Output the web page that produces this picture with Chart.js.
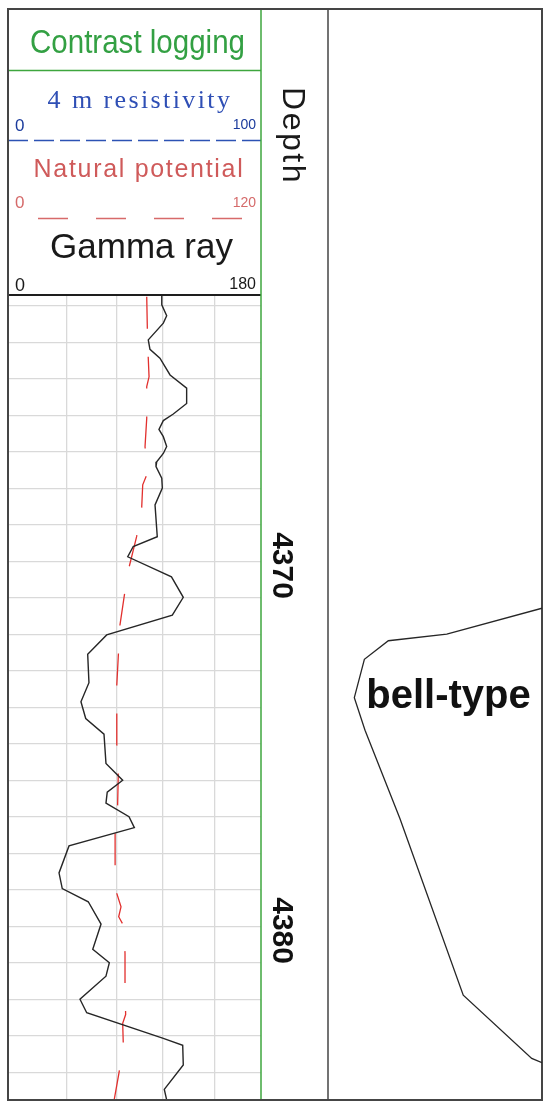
<!DOCTYPE html>
<html>
<head>
<meta charset="utf-8">
<script src="https://cdn.jsdelivr.net/npm/chart.js@4.4.1/dist/chart.umd.min.js"></script>
<style>
  html, body { margin: 0; padding: 0; background: #fff; }
  #wrap { position: relative; width: 550px; height: 1108px; }
  #wrap canvas { position: absolute; left: 0; top: 0; }
</style>
</head>
<body>
<div id="wrap">
  <canvas id="logChart" width="550" height="1108"></canvas>
  <canvas id="bellChart" width="550" height="1108"></canvas>
</div>
<script>
// depth window of the log (m)
var depthTop = 4362.7, depthBottom = 4384.75;
var depthLabels = [4370, 4380];
// gamma values where the vertical grid lines sit
var gammaGrid = [42, 77, 110, 147];

// gamma ray curve (API, 0-180)
var gammaDepth = [4362.72, 4362.97, 4363.27, 4363.47, 4363.93, 4364.19, 4364.43, 4364.89, 4365.25, 4365.67,
  4365.96, 4366.14, 4366.38, 4366.58, 4366.85, 4367.04, 4367.27, 4367.40, 4367.72, 4367.99,
  4368.45, 4369.32, 4369.59, 4369.87, 4370.42, 4370.98, 4371.47, 4372.01, 4372.54, 4373.32,
  4373.84, 4374.30, 4374.73, 4375.53, 4375.99, 4376.32, 4376.62, 4376.99, 4377.29, 4377.79,
  4378.53, 4378.96, 4379.32, 4379.93, 4380.62, 4380.99, 4381.36, 4381.99, 4382.36, 4383.06,
  4383.25, 4383.79, 4384.46, 4384.75];
var gammaValues = [109.4, 109.4, 112.9, 110.5, 99.8, 101.0, 108.1, 115.3, 127.1, 127.1,
  117.6, 110.5, 107.4, 110.5, 112.9, 110.5, 105.8, 105.3, 109.4, 109.8,
  104.6, 106.2, 89.1, 85.2, 116.3, 124.7, 116.9, 70.2, 56.7, 57.6,
  51.9, 55.3, 68.3, 69.7, 81.6, 70.6, 69.7, 86.1, 89.9, 43.4,
  36.3, 38.6, 57.1, 66.2, 60.3, 72.1, 69.7, 51.2, 56.0, 110.5,
  124.3, 124.7, 111.2, 112.9];

// natural potential curve (0-120)
var spDepth = [4362.75, 4363.65, 4364.39, 4364.94, 4365.21, 4366.08, 4366.85, 4367.63, 4367.90, 4368.54,
  4369.32, 4370.14, 4370.92, 4371.74, 4372.61, 4373.38, 4375.03, 4375.85, 4376.67, 4377.45,
  4378.32, 4379.09, 4379.46, 4379.73, 4379.96, 4380.73, 4381.58, 4382.41, 4382.65, 4383.25,
  4384.02, 4384.73];
var spValues = [65.8, 66.1, 66.5, 66.9, 65.8, 65.8, 65.0, 65.8, 63.9, 63.4,
  61.0, 57.5, 55.2, 53.1, 52.3, 51.6, 51.6, 52.3, 52.0, 50.8,
  50.8, 51.6, 53.6, 52.5, 54.7, 55.5, 55.5, 55.8, 54.4, 54.7,
  52.6, 50.4];

// bell-type outline (relative amplitude 0-100)
var bellDepth = [4371.28, 4371.99, 4372.17, 4372.68, 4373.73, 4374.62, 4377.04, 4381.88, 4383.61, 4383.73];
var bellValues = [100, 55.5, 28.2, 17.0, 12.3, 17.3, 33.6, 63.2, 95.2, 100];

function toPoints(xs, ys) {
  return xs.map(function (v, i) { return { x: v, y: ys[i] }; });
}

function line(ctx, x1, y1, x2, y2, color, w, dash) {
  ctx.save();
  ctx.strokeStyle = color;
  ctx.lineWidth = w;
  ctx.setLineDash(dash || []);
  ctx.beginPath();
  ctx.moveTo(x1, y1);
  ctx.lineTo(x2, y2);
  ctx.stroke();
  ctx.restore();
}

function text(ctx, s, x, y, font, color, align, spacing, maxW) {
  ctx.save();
  ctx.font = font;
  ctx.fillStyle = color;
  ctx.textAlign = align || 'left';
  ctx.textBaseline = 'alphabetic';
  if ('letterSpacing' in ctx) ctx.letterSpacing = spacing || '0px';
  if (maxW) ctx.fillText(s, x, y, maxW); else ctx.fillText(s, x, y);
  ctx.restore();
}

var SANS = '"Liberation Sans", Arial, sans-serif';
var SERIF = '"Liberation Serif", "Times New Roman", serif';

// header, frame and depth column
var trackPlugin = {
  id: 'track',
  afterDraw: function (chart) {
    var ctx = chart.ctx;
    var ys = chart.scales.y;

    // header separators
    line(ctx, 8, 70.5, 261, 70.5, '#3ea63e', 1.4);
    line(ctx, 8, 140.5, 261, 140.5, '#2c52b4', 1.5, [20, 6]);
    line(ctx, 38, 218.5, 244, 218.5, '#d76a6a', 1.3, [30, 28]);
    line(ctx, 8, 295, 261, 295, '#1e1e1e', 2);

    text(ctx, 'Contrast logging', 137.5, 53, '34px ' + SANS, '#33a043', 'center', '0px', 215);
    text(ctx, '4 m resistivity', 140, 108, '26px ' + SERIF, '#2f4fb5', 'center', '2.4px');
    text(ctx, '0', 15, 131, '17px ' + SANS, '#1b3b9c', 'left');
    text(ctx, '100', 256, 129, '14px ' + SANS, '#1b3b9c', 'right');
    text(ctx, 'Natural potential', 139, 177, '25px ' + SANS, '#cf5a5a', 'center', '1.7px');
    text(ctx, '0', 15, 208, '17px ' + SANS, '#d56a6a', 'left');
    text(ctx, '120', 256, 207, '14px ' + SANS, '#d56a6a', 'right');
    text(ctx, 'Gamma ray', 141.5, 258, '35px ' + SANS, '#1a1a1a', 'center');
    text(ctx, '0', 15, 291, '18px ' + SANS, '#1a1a1a', 'left');
    text(ctx, '180', 256, 289, '16px ' + SANS, '#1a1a1a', 'right');

    // depth column title, rotated
    ctx.save();
    ctx.translate(283, 136);
    ctx.rotate(Math.PI / 2);
    text(ctx, 'Depth', 0, 0, '32px ' + SANS, '#1a1a1a', 'center', '2.5px');
    ctx.restore();

    // depth labels from the y scale
    depthLabels.forEach(function (d) {
      var py = ys.getPixelForValue(d);
      ctx.save();
      ctx.translate(273, py + 4);
      ctx.rotate(Math.PI / 2);
      text(ctx, String(d), 0, 0, 'bold 30px ' + SANS, '#111', 'center');
      ctx.restore();
    });

    // track dividers and outer frame
    line(ctx, 261, 9, 261, 1100, '#3ea63e', 1.5);
    line(ctx, 328, 9, 328, 1100, '#444', 1.5);
    ctx.save();
    ctx.strokeStyle = '#454545';
    ctx.lineWidth = 2;
    ctx.strokeRect(8, 9, 534, 1091);
    ctx.restore();
  }
};

var logChart = new Chart(document.getElementById('logChart'), {
  type: 'scatter',
  data: {
    datasets: [{
      label: 'Gamma ray',
      data: toPoints(gammaValues, gammaDepth),
      xAxisID: 'x',
      showLine: true,
      borderColor: '#262626',
      borderWidth: 1.4,
      pointRadius: 0
    }, {
      label: 'Natural potential',
      data: toPoints(spValues, spDepth),
      xAxisID: 'xsp',
      showLine: true,
      borderColor: '#e2302e',
      borderWidth: 1.3,
      borderDash: [32, 28],
      pointRadius: 0
    }]
  },
  options: {
    responsive: false,
    animation: false,
    devicePixelRatio: 1,
    layout: { padding: { left: 8, top: 295, right: 289, bottom: 8 } },
    plugins: { legend: { display: false }, tooltip: { enabled: false } },
    scales: {
      x: {
        type: 'linear', min: 0, max: 180,
        afterBuildTicks: function (s) { s.ticks = gammaGrid.map(function (v) { return { value: v }; }); },
        afterFit: function (s) { s.height = 0; },
        ticks: { display: false },
        grid: { color: '#d9d9d9', lineWidth: 1.3, drawTicks: false },
        border: { display: false }
      },
      xsp: { type: 'linear', min: 0, max: 120, display: false },
      y: {
        type: 'linear', reverse: true, min: depthTop, max: depthBottom,
        afterBuildTicks: function (s) {
          var t = [];
          for (var d = Math.ceil(depthTop); d <= Math.floor(depthBottom); d++) t.push({ value: d });
          s.ticks = t;
        },
        afterFit: function (s) { s.width = 0; },
        ticks: { display: false },
        grid: { color: '#d9d9d9', lineWidth: 1.3, drawTicks: false },
        border: { display: false }
      }
    }
  },
  plugins: [trackPlugin]
});

var bellLabel = {
  id: 'bellLabel',
  afterDraw: function (chart) {
    text(chart.ctx, 'bell-type', 448.5, 708, 'bold 40px ' + SANS, '#111', 'center');
  }
};

var bellChart = new Chart(document.getElementById('bellChart'), {
  type: 'scatter',
  data: {
    datasets: [{
      label: 'bell-type',
      data: toPoints(bellValues, bellDepth),
      showLine: true,
      borderColor: '#262626',
      borderWidth: 1.3,
      pointRadius: 0
    }]
  },
  options: {
    responsive: false,
    animation: false,
    devicePixelRatio: 1,
    layout: { padding: { left: 328, top: 295, right: 8, bottom: 8 } },
    plugins: { legend: { display: false }, tooltip: { enabled: false } },
    scales: {
      x: { type: 'linear', min: 0, max: 100, display: false },
      y: { type: 'linear', reverse: true, min: depthTop, max: depthBottom, display: false }
    }
  },
  plugins: [bellLabel]
});
</script>
</body>
</html>
